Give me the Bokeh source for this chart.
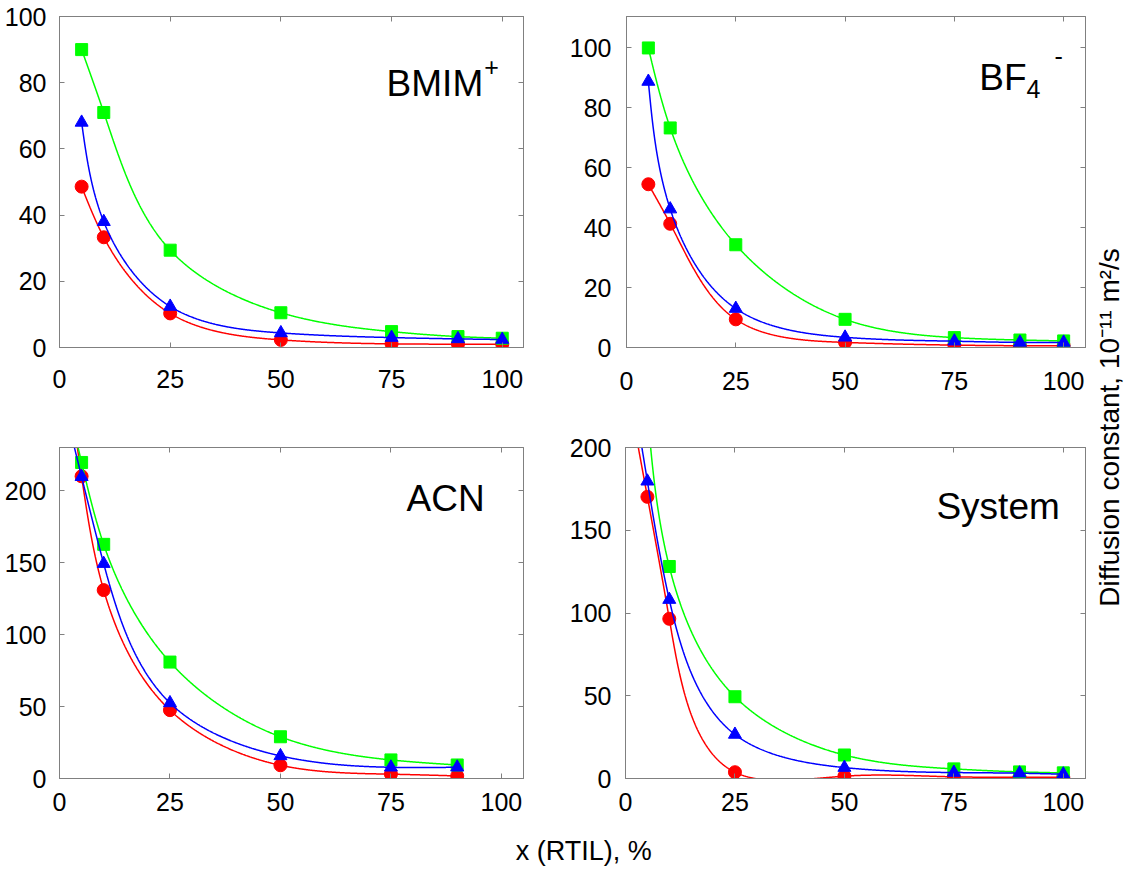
import numpy as np
from bokeh.plotting import figure
from bokeh.layouts import row, column
from bokeh.models import Label, LinearAxis, FixedTicker, CustomJSTickFormatter, Range1d
from bokeh.embed import file_html
from bokeh.resources import INLINE

# ---------------- data ----------------
x_rtil = [5, 10, 25, 50, 75, 90, 100]
x_acn = [5, 10, 25, 50, 75, 90]
x_ticks = [0, 25, 50, 75, 100]

bmim_red = [48.6, 33.3, 10.3, 2.3, 1.1, 1.0, 1.0]
bmim_green = [90, 71, 29.4, 10.5, 4.8, 3.3, 2.8]
bmim_blue = [68, 38, 12.4, 4.4, 3.0, 2.6, 2.4]

bf4_red = [54.5, 41.3, 9.4, 1.7, 0.8, 0.6, 0.6]
bf4_green = [100, 73.3, 34.3, 9.4, 3.3, 2.5, 2.2]
bf4_blue = [88.8, 46.2, 13, 3.4, 2.1, 1.7, 1.7]

acn_red = [210, 130.9, 47.5, 9.2, 3.0, 1.8]
acn_green = [219.6, 162.7, 80.9, 29, 12.9, 9.4]
acn_blue = [209.7, 149.3, 52.5, 15.7, 7.8, 7.8]

sys_red = [170.2, 96.5, 3.8, 1.4, 1.0, 0.8, 0.8]
sys_green = [222, 128.1, 49.4, 14.2, 5.8, 4.0, 3.4]
sys_blue = [179.6, 108.1, 26.6, 6.6, 3.6, 3.2, 2.6]

FONT = "Liberation Sans"
FRAME = "#808080"
RED, GREEN, BLUE = "#ff0000", "#00ff00", "#0000ff"


def nat_m(t, v):
    n = len(t)
    h = np.diff(t)
    A = np.zeros((n, n))
    r = np.zeros(n)
    A[0, 0] = A[-1, -1] = 1.0
    for i in range(1, n - 1):
        A[i, i - 1] = h[i - 1]
        A[i, i] = 2 * (h[i - 1] + h[i])
        A[i, i + 1] = h[i]
        r[i] = 6 * ((v[i + 1] - v[i]) / h[i] - (v[i] - v[i - 1]) / h[i - 1])
    return np.linalg.solve(A, r)


def nat_eval(t, v, M, ts):
    idx = np.clip(np.searchsorted(t, ts) - 1, 0, len(t) - 2)
    t0, t1 = t[idx], t[idx + 1]
    v0, v1 = v[idx], v[idx + 1]
    hh = t1 - t0
    m0, m1 = M[idx], M[idx + 1]
    return (m0 * (t1 - ts) ** 3 / (6 * hh) + m1 * (ts - t0) ** 3 / (6 * hh)
            + (v0 / hh - m0 * hh / 6) * (t1 - ts) + (v1 / hh - m1 * hh / 6) * (ts - t0))


def smooth_curve(xk, yk, sx, sy, ext):
    """Parametric natural cubic spline through the points, in screen space."""
    X = np.asarray(xk, float) * sx
    Y = np.asarray(yk, float) * sy
    t = np.concatenate([[0.0], np.cumsum(np.hypot(np.diff(X), np.diff(Y)))])
    Mx, My = nat_m(t, X), nat_m(t, Y)
    ts = np.linspace(0, t[-1], 900)
    xs, ys = nat_eval(t, X, Mx, ts), nat_eval(t, Y, My, ts)
    if ext > 0:
        h0 = t[1] - t[0]
        dx = (X[1] - X[0]) / h0 - h0 * Mx[1] / 6
        dy = (Y[1] - Y[0]) / h0 - h0 * My[1] / 6
        te = np.linspace(-ext, 0, 40)[:-1]
        xs = np.concatenate([X[0] + dx * te, xs])
        ys = np.concatenate([Y[0] + dy * te, ys])
    return xs / sx, ys / sy


def panel(w, h, bl, br, bt, bb, xmax, ymax, ystep, xs, series, ext, xstand, ystand):
    p = figure(width=w, height=h, x_range=Range1d(0, xmax), y_range=Range1d(0, ymax),
               output_backend="svg", toolbar_location=None,
               min_border_left=bl, min_border_right=br, min_border_top=bt, min_border_bottom=bb,
               background_fill_color="white", border_fill_color="white")
    p.grid.visible = False
    p.outline_line_color = FRAME
    yt = list(np.arange(0, ymax + 0.01, ystep))
    for ax, ticks, stand in ((p.xaxis[0], x_ticks, xstand), (p.yaxis[0], yt, ystand)):
        ax.ticker = FixedTicker(ticks=ticks)
        ax.major_tick_in = 5
        ax.major_tick_out = 0
        ax.minor_tick_line_color = None
        ax.axis_line_color = FRAME
        ax.major_tick_line_color = FRAME
        ax.major_label_text_font = FONT
        ax.major_label_text_font_size = "25px"
        ax.major_label_text_color = "black"
        ax.major_label_standoff = stand
    for side, ticks in (("above", x_ticks), ("right", yt)):
        ax = LinearAxis(ticker=FixedTicker(ticks=ticks),
                        formatter=CustomJSTickFormatter(code="return ''"),
                        major_tick_in=5, major_tick_out=0, minor_tick_line_color=None,
                        axis_line_color=FRAME, major_tick_line_color=FRAME,
                        major_label_text_font_size="1px", major_label_standoff=0)
        p.add_layout(ax, side)
    fw, fh = w - bl - br, h - bt - bb
    sx, sy = fw / xmax, fh / ymax
    for color, marker, size, ys in series:
        cx, cy = smooth_curve(xs, ys, sx, sy, ext)
        p.line(cx, cy, line_color=color, line_width=1.5)
        p.scatter(xs, ys, marker=marker, size=size, fill_color=color, line_color=color)
    return p


def ser(red, green, blue):
    return [(RED, "circle", 13, red), (GREEN, "square", 12, green), (BLUE, "triangle", 13, blue)]


def lab(p, x, y, text, size, align="right", xo=0, yo=0):
    p.add_layout(Label(x=x, y=y, text=text, text_font=FONT, text_font_size=size,
                       text_align=align, text_baseline="alphabetic", text_color="black",
                       x_offset=xo, y_offset=yo))


# top row: canvas y 8..439 ; bottom row: 439..842 ; x-title: 842..874
p1 = panel(557, 431, 59, 34, 14, 84, 104.8, 100, 20, x_rtil,
           ser(bmim_red, bmim_green, bmim_blue), 0, 22, 13)
lab(p1, 95.7, 79.7, "BMIM", "37px")
lab(p1, 95.7, 79.7, "+", "25px", "left", 1, 17)

p2 = panel(533, 431, 69, 5, 16, 81, 105, 110.5, 20, x_rtil,
           ser(bf4_red, bf4_green, bf4_blue), 0, 24, 15)
lab(p2, 91.5, 90.1, "BF", "37px")
lab(p2, 91.5, 90.1, "4", "25px", "left", 0, -11)
lab(p2, 91.5, 90.1, "-", "25px", "left", 28, 22)

p3 = panel(557, 403, 59, 34, 16, 56, 105, 230, 50, x_acn,
           ser(acn_red, acn_green, acn_blue), 70, 14, 13)
lab(p3, 96.2, 194.7, "ACN", "37px")

p4 = panel(533, 403, 68, 5, 14, 56, 105.07, 200, 50, x_rtil,
           ser(sys_red, sys_green, sys_blue), 70, 14, 14)
lab(p4, 99.2, 164.6, "System", "37px")

pxl = figure(width=1090, height=32, x_range=(0, 1), y_range=(0, 1), output_backend="svg",
             toolbar_location=None, x_axis_type=None, y_axis_type=None, min_border=0,
             outline_line_color=None)
pxl.grid.visible = False
pxl.add_layout(Label(x=0.535, y=0.5, text="x (RTIL), %", text_font=FONT, text_font_size="27px",
                     text_align="center", text_baseline="middle", text_color="black"))

pyl = figure(width=35, height=866, x_range=(0, 1), y_range=(0, 1), output_backend="svg",
             toolbar_location=None, x_axis_type=None, y_axis_type=None, min_border=0,
             outline_line_color=None)
pyl.grid.visible = False
pyl.add_layout(Label(x=0.54, y=0.507, text="Diffusion constant, 10\u207b\u00b9\u00b9 m\u00b2/s",
                     text_font=FONT, text_font_size="28px", angle=np.pi / 2,
                     text_align="center", text_baseline="middle", text_color="black"))

layout = row(column(row(p1, p2), row(p3, p4), pxl), pyl)

open("out.html", "w").write(file_html(layout, INLINE))
